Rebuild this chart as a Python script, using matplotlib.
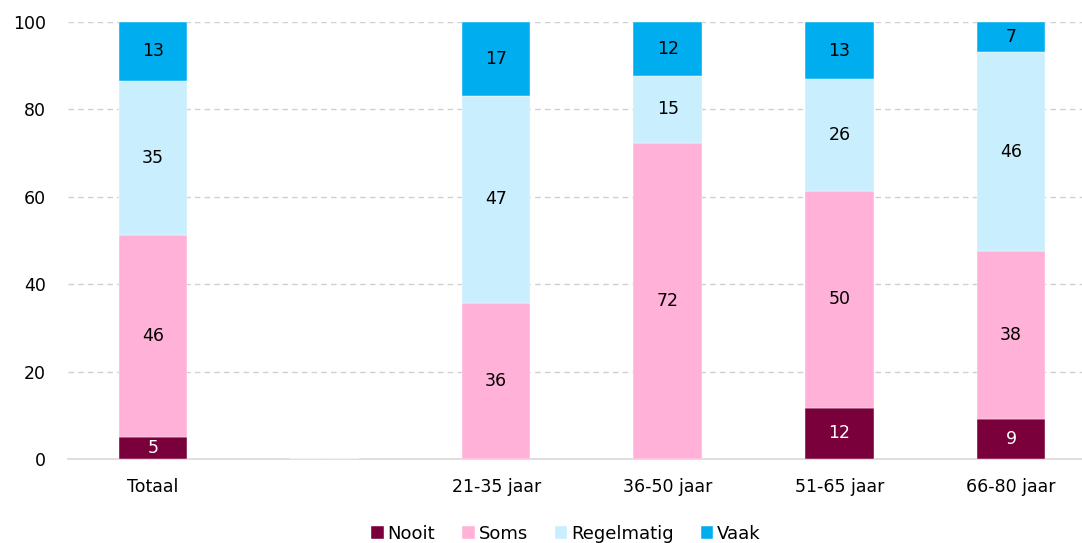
import matplotlib

matplotlib.use("Agg")
import matplotlib.pyplot as plt
import numpy as np

plt.rcParams["font.family"] = ["DejaVu Sans"]

# groups; the empty slot keeps a gap after "Totaal"
groups = ["Totaal", "", "21-35 jaar", "36-50 jaar", "51-65 jaar", "66-80 jaar"]
nooit = [5.1, 0, 0, 0, 11.7, 9.2]
soms = [46.2, 0, 35.8, 72.3, 49.6, 38.3]
regelmatig = [35.3, 0, 47.2, 15.4, 25.6, 45.7]
vaak = [13.4, 0, 17.0, 12.3, 13.1, 6.8]

series = [
    ("Nooit", nooit, "#7a003c", "white"),
    ("Soms", soms, "#ffb1d8", "black"),
    ("Regelmatig", regelmatig, "#c9eefd", "black"),
    ("Vaak", vaak, "#00aeef", "black"),
]

fig = plt.figure(figsize=(10.82, 5.43), dpi=100)
ax = fig.add_axes([68 / 1082, 1 - 459 / 543, (1082 - 68) / 1082, (459 - 22) / 543])

x = np.arange(len(groups))
bottom = np.zeros(len(groups))
for name, values, color, text_color in series:
    vals = np.array(values, dtype=float)
    bars = ax.bar(x, vals, width=0.4, bottom=bottom, color=color, label=name,
                  edgecolor="white", linewidth=0.3, zorder=3)
    for rect, v in zip(bars, vals):
        if v > 0:
            ax.text(rect.get_x() + rect.get_width() / 2,
                    rect.get_y() + rect.get_height() / 2, f"{v:.0f}",
                    ha="center", va="center", fontsize=12.5, color=text_color,
                    zorder=4)
    bottom += vals

ax.set_xlim(-0.495, 5.414)
ax.set_ylim(0, 100)
ax.set_yticks([0, 20, 40, 60, 80, 100])
ax.set_xticks([i for i, g in enumerate(groups) if g])
ax.set_xticklabels([g for g in groups if g])
ax.tick_params(axis="both", length=0, labelsize=12.5, colors="black")
ax.tick_params(axis="x", pad=14)
ax.tick_params(axis="y", pad=16)

ax.yaxis.grid(True, linestyle=(0, (4, 3)), color="#d0d0d0", linewidth=1, zorder=0)
ax.set_axisbelow(True)
for side in ["top", "right", "left"]:
    ax.spines[side].set_visible(False)
ax.spines["bottom"].set_color("#d9d9d9")
ax.spines["bottom"].set_linewidth(1.2)

fig.legend(loc="lower center", bbox_to_anchor=(0.523, -0.03), ncol=4,
           frameon=False, fontsize=13, handlelength=0.7, handleheight=0.7,
           handletextpad=0.2, columnspacing=1.5)

fig.savefig("out.png", dpi=100)
